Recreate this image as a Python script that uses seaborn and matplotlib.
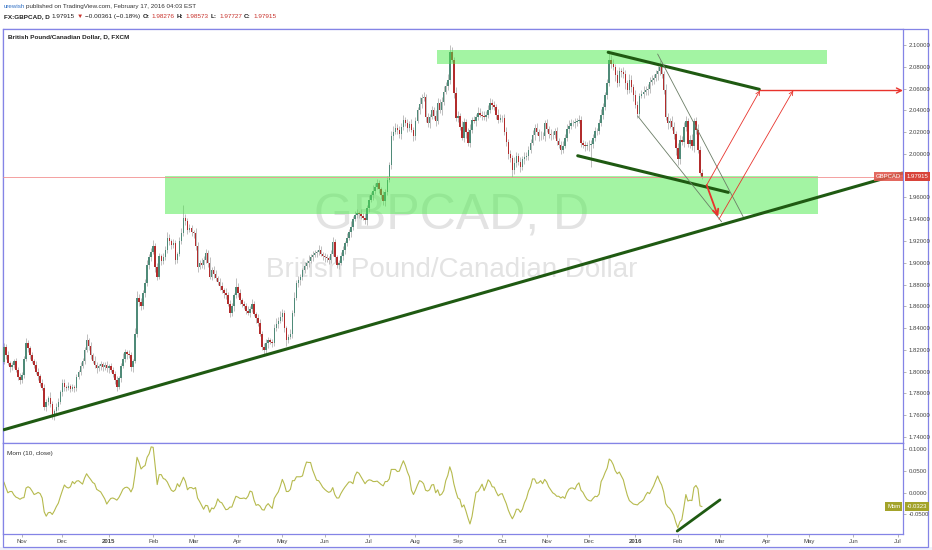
import numpy as np
import pandas as pd
import matplotlib
matplotlib.use("Agg")
import matplotlib.pyplot as plt
import seaborn as sns
from matplotlib.patches import Rectangle
from matplotlib.transforms import Bbox, TransformedBbox, blended_transform_factory

# GBPCAD daily closes, 21 Oct 2014 - 17 Feb 2016
closes = [
    1.823, 1.815, 1.808, 1.804, 1.806, 1.810, 1.802, 1.795, 1.792, 1.797,
    1.812, 1.826, 1.822, 1.815, 1.810, 1.806, 1.800, 1.796, 1.790, 1.785,
    1.768, 1.772, 1.776, 1.770, 1.760, 1.764, 1.768, 1.772, 1.781, 1.790,
    1.786, 1.785, 1.787, 1.784, 1.786, 1.785, 1.795, 1.800, 1.805, 1.810,
    1.820, 1.829, 1.824, 1.815, 1.810, 1.806, 1.803, 1.805, 1.807, 1.804,
    1.806, 1.803, 1.805, 1.802, 1.798, 1.792, 1.786, 1.794, 1.805, 1.812,
    1.818, 1.816, 1.815, 1.804, 1.810, 1.835, 1.868, 1.864, 1.860, 1.872,
    1.881, 1.898, 1.905, 1.910, 1.915, 1.896, 1.887, 1.906, 1.902, 1.905,
    1.912, 1.923, 1.920, 1.916, 1.918, 1.903, 1.908, 1.920, 1.927, 1.941,
    1.938, 1.930, 1.932, 1.928, 1.927, 1.915, 1.896, 1.900, 1.898, 1.903,
    1.909, 1.900, 1.887, 1.893, 1.890, 1.886, 1.882, 1.879, 1.875, 1.872,
    1.870, 1.862, 1.854, 1.860, 1.870, 1.878, 1.872, 1.866, 1.862, 1.860,
    1.856, 1.854, 1.858, 1.862, 1.853, 1.849, 1.845, 1.835, 1.823, 1.820,
    1.826, 1.829, 1.827, 1.826, 1.840, 1.844, 1.847, 1.850, 1.854, 1.840,
    1.829, 1.832, 1.835, 1.854, 1.868, 1.881, 1.884, 1.887, 1.893, 1.897,
    1.900, 1.902, 1.905, 1.907, 1.909, 1.910, 1.912, 1.908, 1.906, 1.905,
    1.904, 1.903, 1.908, 1.919, 1.905, 1.898, 1.900, 1.906, 1.912, 1.918,
    1.923, 1.928, 1.933, 1.940, 1.944, 1.946, 1.945, 1.943, 1.941, 1.939,
    1.950, 1.958, 1.962, 1.966, 1.970, 1.973, 1.968, 1.962, 1.957, 1.965,
    1.976, 1.990, 2.016, 2.020, 2.024, 2.022, 2.018, 2.025, 2.031, 2.028,
    2.024, 2.027, 2.022, 2.016, 2.030, 2.040, 2.046, 2.051, 2.052, 2.034,
    2.028, 2.034, 2.040, 2.035, 2.030, 2.047, 2.040, 2.048, 2.057, 2.062,
    2.068, 2.094, 2.086, 2.056, 2.033, 2.035, 2.025, 2.015, 2.029, 2.020,
    2.010, 2.022, 2.031, 2.030, 2.034, 2.038, 2.036, 2.035, 2.034, 2.036,
    2.040, 2.047, 2.045, 2.043, 2.036, 2.031, 2.033, 2.033, 2.020, 2.011,
    2.000, 1.996, 1.985, 1.992, 1.998, 1.993, 1.988, 1.995, 1.997, 1.998,
    2.004, 2.010, 2.017, 2.024, 2.020, 2.016, 2.016, 2.016, 2.028, 2.023,
    2.018, 2.017, 2.017, 2.021, 2.012, 2.008, 2.004, 2.007, 2.015, 2.023,
    2.026, 2.028, 2.028, 2.029, 2.030, 2.031, 2.010, 2.008, 2.007, 2.008,
    2.008, 2.009, 2.015, 2.021, 2.021, 2.028, 2.036, 2.043, 2.054, 2.065,
    2.086, 2.083, 2.080, 2.072, 2.065, 2.076, 2.075, 2.073, 2.065, 2.059,
    2.068, 2.061, 2.054, 2.045, 2.037, 2.053, 2.055, 2.057, 2.059, 2.060,
    2.066, 2.068, 2.070, 2.073, 2.076, 2.080, 2.073, 2.059, 2.034, 2.028,
    2.030, 2.025, 2.018, 2.005, 1.995, 2.013, 2.011, 2.025, 2.030, 2.009,
    2.013, 2.007, 2.030, 2.022, 2.004, 1.9828, 1.97915,
]
# 10 closes before the visible window, only needed for Mom(10)
prior_closes = [1.798, 1.803, 1.808, 1.801, 1.803, 1.815, 1.812, 1.807, 1.807, 1.809]

# wick lengths in 0.001 (high - max(open, close) and min(open, close) - low)
up_wick = [
    3,2,4,2,3,2,3,2,4,3, 2,5,3,2,3,2,4,3,2,3, 4,3,2,5,3,2,3,4,2,3, 3,2,4,2,3,2,3,2,4,3,
    3,6,2,3,2,4,3,2,3,2, 3,4,2,3,2,3,4,2,3,5, 3,2,4,3,2,5,6,3,4,3, 4,5,3,4,6,3,4,3,2,4,
    3,5,3,2,4,3,2,4,5,12, 4,3,4,3,2,5,4,3,4,3, 4,3,5,3,4,3,2,4,3,2, 5,3,4,3,2,8,3,4,2,3,
    3,4,2,5,3,2,4,3,2,3, 4,3,2,3,4,5,3,6,4,3, 2,3,4,3,5,3,4,3,2,4, 3,5,3,4,3,2,4,3,2,3,
    3,2,4,5,3,2,3,4,3,2, 4,3,5,3,4,3,2,4,3,5, 3,4,3,5,3,4,3,2,4,3, 4,3,5,6,4,3,4,3,5,3,
    4,3,5,3,4,3,6,4,5,3, 4,3,4,3,5,4,3,4,5,4, 5,6,4,3,5,4,3,5,4,3, 4,5,3,4,3,5,4,3,4,3,
    5,4,3,4,3,5,4,3,4,5, 3,4,3,5,4,3,4,3,5,4, 3,4,5,3,4,3,5,4,3,4, 3,5,4,3,4,3,4,5,3,4,
    5,4,3,4,3,5,4,3,4,3, 5,4,3,4,3,4,5,4,3,4, 8,5,4,3,5,4,3,5,4,3, 5,4,3,5,4,3,4,5,3,4,
    5,4,3,4,5,6,4,3,5,4, 3,5,4,3,5,4,3,4,5,3, 4,5,3,4,5,3,3,
]
dn_wick = [
    2,3,2,4,2,3,2,3,3,2, 3,2,4,3,2,3,2,4,3,2, 3,4,3,2,3,4,2,3,2,3, 4,3,2,3,2,4,3,2,3,2,
    3,2,4,3,2,3,4,2,3,3, 2,3,4,2,3,3,4,2,3,2, 3,4,2,3,4,2,3,4,3,2, 3,2,4,3,2,4,3,2,4,3,
    2,3,4,3,2,4,3,2,3,2, 3,4,2,3,4,3,4,2,3,4, 3,4,2,3,4,3,2,4,3,4, 3,2,4,3,4,2,3,4,3,2,
    3,2,4,3,2,4,3,2,3,5, 3,4,2,3,2,3,4,2,3,4, 5,3,2,4,3,2,3,4,3,2, 3,4,2,3,2,4,3,2,3,4,
    3,4,3,2,4,3,4,2,3,4, 3,2,4,3,2,3,4,3,2,3, 4,3,2,4,3,2,4,3,4,5, 3,2,4,3,2,4,3,4,3,2,
    4,3,2,4,3,2,3,4,2,5, 3,4,2,3,4,3,2,4,3,2, 3,4,2,5,3,4,3,2,4,5, 3,4,3,2,4,3,2,4,3,4,
    3,2,4,3,4,3,2,4,3,4, 5,3,6,3,4,3,5,3,4,3, 4,3,2,4,3,4,3,2,4,3, 3,4,3,2,4,3,4,3,2,3,
    4,3,2,4,3,2,4,3,4,3, 5,20,4,3,4,3,2,4,3,4, 3,4,3,5,4,3,4,3,5,4, 3,4,5,3,4,3,2,4,3,5,
    4,3,4,3,5,4,3,4,3,5, 4,3,4,6,5,4,3,5,4,3, 4,3,5,4,3,2,2,
]

last_price = 1.97915
last_mom = -0.0323
price_ticks = [2.10, 2.08, 2.06, 2.04, 2.02, 2.00, 1.96, 1.94, 1.92, 1.90,
               1.88, 1.86, 1.84, 1.82, 1.80, 1.78, 1.76, 1.74]
mom_ticks = [0.1, 0.05, 0.0, -0.05]

# drawn annotations (bar index, price)
zone_top = ([214.5, 407.8], 2.0826, 2.0954)
zone_bottom = ([79.9, 403.3], 1.9445, 1.9797)
trend_line = ([-0.4, 445.6], [1.7465, 1.9825])
channel_upper = ([299.5, 374.4], [2.0933, 2.0593])
channel_lower = ([284.4, 359.0], [1.9983, 1.9647])
thin_upper = ([324.0, 366.4], [2.0917, 1.9423])
thin_lower = ([314.1, 355.7], [2.0348, 1.9377])
arrow_down = ((348.3, 1.9714), (354.0, 1.9423))
arrow_up_a = ((348.3, 1.9714), (374.7, 2.0582))
arrow_up_b = ((354.4, 1.9400), (391.2, 2.0582))
target_line = ((374.7, 2.0582), (445.6, 2.0582))
mom_trend = ([333.7, 354.9], [-0.0884, -0.0163])

sns.set_style("white")
plt.rcParams['font.family'] = ['Liberation Sans', 'DejaVu Sans']

n = len(closes)
all_close = pd.Series(prior_closes + closes, dtype=float)
df = pd.DataFrame({'i': np.arange(n), 'close': closes})
df['open'] = all_close.shift(1).iloc[len(prior_closes):].values
df['high'] = np.maximum(df.open, df.close) + np.array(up_wick) / 1000
df['low'] = np.minimum(df.open, df.close) - np.array(dn_wick) / 1000
df['mom'] = all_close.diff(10).iloc[len(prior_closes):].values

dates = pd.bdate_range('2014-10-21', periods=n + 120)
month_pos = np.flatnonzero(np.r_[True, dates.month[1:] != dates.month[:-1]])[1:]
month_lab = [str(d.year) if d.month == 1 else d.strftime('%b') for d in dates[month_pos]]

W, H = 932, 550
fig = plt.figure(figsize=(W / 100, H / 100), dpi=100, facecolor='white')
fx = lambda px: px / W
fy = lambda py: 1 - py / H

ax = fig.add_axes([fx(3), fy(443), fx(903) - fx(3), fy(28.5) - fy(443)])
axm = fig.add_axes([fx(3), fy(533.5), fx(903) - fx(3), fy(443) - fy(533.5)], sharex=ax)

frame = '#8484e6'
fig.patches.append(Rectangle((0, 0), 1, fy(547), transform=fig.transFigure,
                             facecolor='#eef0fa', edgecolor='none', zorder=-5))
fig.patches.append(Rectangle((fx(3), fy(547)), fx(928) - fx(3), fy(28.5) - fy(547),
                             transform=fig.transFigure, fill=False, edgecolor=frame,
                             lw=0.9, zorder=-4))

# watermark
ax.text(fx(452), fy(216), 'GBPCAD, D', transform=fig.transFigure, ha='center', va='center',
        fontsize=36, color='#e3e3e3', zorder=1)
ax.text(fx(452), fy(270), 'British Pound/Canadian Dollar', transform=fig.transFigure,
        ha='center', va='center', fontsize=20, color='#e3e3e3', zorder=1)

# candles
up = df.close >= df.open
ax.vlines(df.i, df.low, df.high, color='#b4b4b4', lw=0.6, zorder=2)
ax.bar(df.i[up], (df.close - df.open)[up], bottom=df.open[up], width=0.72,
       color='#4f8a78', lw=0, zorder=3)
ax.bar(df.i[~up], (df.open - df.close)[~up], bottom=df.close[~up], width=0.72,
       color='#b22c2c', lw=0, zorder=3)

# zones
for xs, y0, y1 in (zone_top, zone_bottom):
    ax.fill_between(xs, y0, y1, color='#48eb48', alpha=0.5, lw=0, zorder=4)

ax.axhline(last_price, color='#f29090', lw=0.6, zorder=5)

green = '#1f5a12'
ax.plot(*trend_line, color=green, lw=2.2, zorder=6, solid_capstyle='butt')
ax.plot(*channel_upper, color=green, lw=2.2, zorder=6)
ax.plot(*channel_lower, color=green, lw=2.2, zorder=6)
ax.plot(*thin_upper, color='#6b7d66', lw=0.6, zorder=6)
ax.plot(*thin_lower, color='#6b7d66', lw=0.6, zorder=6)

red = '#e8332c'
ax.annotate('', xy=arrow_down[1], xytext=arrow_down[0],
            arrowprops=dict(arrowstyle='->', color=red, lw=1.3, shrinkA=0, shrinkB=0), zorder=7)
for a in (arrow_up_a, arrow_up_b):
    ax.annotate('', xy=a[1], xytext=a[0],
                arrowprops=dict(arrowstyle='->', color=red, lw=0.6, shrinkA=0, shrinkB=0,
                                mutation_scale=7), zorder=7)
ax.annotate('', xy=target_line[1], xytext=target_line[0], annotation_clip=False,
            arrowprops=dict(arrowstyle='->', color=red, lw=1.0, shrinkA=0, shrinkB=0,
                            mutation_scale=9), zorder=7)

ax.set_ylim(2.10 - (443 - 45) / 1089, 2.10 + (45 - 28.5) / 1089)
ax.yaxis.tick_right()
ax.set_yticks(price_ticks)
ax.yaxis.set_major_formatter(matplotlib.ticker.FormatStrFormatter('%.5f'))
ax.tick_params(axis='y', labelsize=4.3, labelcolor='#444444', color='#999999',
               length=2.5, width=0.5, pad=1.5, right=True)
ax.tick_params(axis='x', bottom=False, labelbottom=False)

# last price labels
tr = blended_transform_factory(ax.transAxes, ax.transData)
ax.text(0.998, last_price, 'GBPCAD', transform=tr, ha='right', va='center', fontsize=4.3,
        color='white', zorder=8, bbox=dict(facecolor='#e0594f', edgecolor='none', pad=1.3, alpha=0.9))
ax.text(1.004, last_price, '1.97915', transform=tr, ha='left', va='center', fontsize=4.3,
        color='white', clip_on=False, zorder=8,
        bbox=dict(facecolor='#d8433a', edgecolor='none', pad=1.3))
ax.text(fx(8), fy(36.5), 'British Pound/Canadian Dollar, D, FXCM', transform=fig.transFigure,
        ha='left', va='center', fontsize=4.6, fontweight='bold', color='#222222', zorder=9)

# momentum panel
sns.lineplot(data=df, x='i', y='mom', ax=axm, color='#b6ba4e', lw=0.8, legend=False)
axm.plot(*mom_trend, color=green, lw=2.0, zorder=5)
axm.set_ylim(-0.094, 0.115)
axm.yaxis.tick_right()
axm.set_yticks(mom_ticks)
axm.yaxis.set_major_formatter(matplotlib.ticker.FormatStrFormatter('%.4f'))
axm.tick_params(axis='y', labelsize=4.3, labelcolor='#444444', color='#999999',
                length=2.5, width=0.5, pad=1.5, right=True)
axm.set_xticks(month_pos)
axm.set_xticklabels(month_lab)
axm.tick_params(axis='x', labelsize=4.3, labelcolor='#444444', color='#999999',
                length=2, width=0.5, pad=2, bottom=True)
for lab, txt in zip(axm.get_xticklabels(), month_lab):
    if txt.isdigit():
        lab.set_fontweight('bold')
    lab.set_clip_on(True)
    lab.set_clip_box(TransformedBbox(Bbox([[0, 0], [fx(903), 1]]), fig.transFigure))
axm.set_xlabel('')
axm.set_ylabel('')
axm.text(fx(7), fy(454), 'Mom (10, close)', transform=fig.transFigure, ha='left',
         va='center', fontsize=4.6, color='#333333')
trm = blended_transform_factory(axm.transAxes, axm.transData)
axm.text(0.997, last_mom, 'Mom', transform=trm, ha='right', va='center', fontsize=4.3,
         color='white', zorder=8, bbox=dict(facecolor='#a3a32a', edgecolor='none', pad=1.3))
axm.text(1.004, last_mom, '-0.0323', transform=trm, ha='left', va='center', fontsize=4.3,
         color='white', clip_on=False, zorder=8,
         bbox=dict(facecolor='#a3a32a', edgecolor='none', pad=1.3))

# x range: one bar ~2 px, runs on past the last bar into the future
ax.set_xlim(-0.42, 445.6)

for a in (ax, axm):
    for s in a.spines.values():
        s.set_color(frame)
        s.set_linewidth(0.9)
ax.set_xlabel('')
ax.set_ylabel('')

# header lines
renderer = fig.canvas.get_renderer()


def put_runs(x, y, runs, size, gap=1.6):
    for txt, color, weight in runs:
        t = fig.text(fx(x), fy(y), txt, color=color, fontsize=size, fontweight=weight,
                     ha='left', va='center')
        x = t.get_window_extent(renderer=renderer).x1 + gap


put_runs(3.5, 6.5, [('urewish', '#2f6fc4', 'normal'),
                    ('published on TradingView.com, February 17, 2016 04:03 EST', '#333333', 'normal')], 4.5)
dark, vred = '#222222', '#c8322c'
put_runs(3.5, 16.5, [('FX:GBPCAD, D', dark, 'bold'), ('1.97915', dark, 'normal'),
                     ('▼', vred, 'normal'), ('\u22120.00361 (\u22120.18%)', dark, 'normal'),
                     ('O:', dark, 'bold'), ('1.98276', vred, 'normal'),
                     ('H:', dark, 'bold'), ('1.98573', vred, 'normal'),
                     ('L:', dark, 'bold'), ('1.97727', vred, 'normal'),
                     ('C:', dark, 'bold'), ('1.97915', vred, 'normal')], 4.6, gap=2.2)

fig.savefig('out.png', dpi=100, facecolor='white')
